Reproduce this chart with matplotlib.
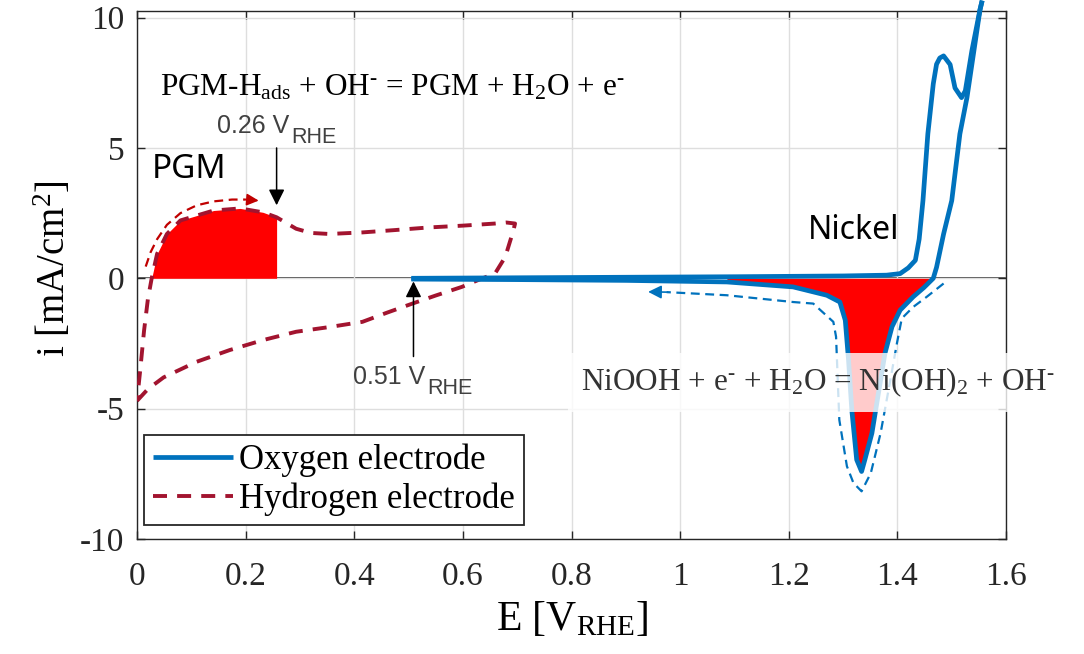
import numpy as np
import matplotlib
matplotlib.use("Agg")
import matplotlib.pyplot as plt

plt.rcParams["axes.unicode_minus"] = False
plt.rcParams["mathtext.default"] = "regular"

# oxygen electrode (Ni), forward and reverse scan
o2_fwd_E = [0.505, 0.7, 0.9, 1.1, 1.3, 1.38, 1.405, 1.42, 1.433, 1.44, 1.447, 1.456, 1.466,
            1.472, 1.478, 1.485, 1.497, 1.506, 1.518, 1.525, 1.537, 1.552, 1.556]
o2_fwd_i = [0.0, 0.02, 0.04, 0.06, 0.09, 0.12, 0.18, 0.4, 0.69, 1.5, 2.98, 5.54, 7.46,
            8.21, 8.45, 8.53, 8.2, 7.3, 6.93, 7.19, 8.72, 10.3, 10.65]
o2_rev_E = [1.556, 1.552, 1.528, 1.515, 1.500, 1.485, 1.472, 1.466, 1.449, 1.429, 1.405, 1.390,
            1.377, 1.365, 1.353, 1.340, 1.334, 1.325, 1.316, 1.310, 1.304, 1.294, 1.270,
            1.208, 1.086, 0.9, 0.7, 0.505]
o2_rev_i = [10.65, 10.3, 6.93, 5.54, 2.98, 1.7, 0.42, 0.0, -0.35, -0.71, -1.22, -1.86,
            -2.88, -4.41, -5.94, -6.96, -7.41, -6.96, -5.05, -3.14, -1.61, -0.91, -0.65,
            -0.33, -0.14, -0.08, -0.05, -0.03]

# hydrogen electrode (PGM), closed loop
h2_E = [0.0, 0.02, 0.049, 0.11, 0.171, 0.232, 0.293, 0.354, 0.415, 0.46, 0.507, 0.55, 0.598,
        0.63, 0.659, 0.678, 0.693, 0.696, 0.68, 0.659, 0.6, 0.537, 0.475, 0.415, 0.354,
        0.32, 0.293, 0.257, 0.232, 0.19, 0.141, 0.08, 0.055, 0.037, 0.027, 0.02, 0.013,
        0.006, 0.0]
h2_i = [-4.7, -4.25, -3.8, -3.2, -2.75, -2.37, -2.05, -1.87, -1.67, -1.32, -0.97, -0.66,
        -0.33, -0.05, 0.18, 0.82, 1.84, 2.1, 2.14, 2.1, 2.02, 1.95, 1.85, 1.76, 1.7, 1.74,
        1.9, 2.34, 2.53, 2.68, 2.6, 2.22, 1.7, 0.94, 0.0, -0.8, -2.0, -3.5, -4.7]

# guide arrows
pgm_arrow_E = [0.016, 0.025, 0.037, 0.055, 0.08, 0.11, 0.141, 0.175, 0.2]
pgm_arrow_i = [0.45, 1.0, 1.5, 2.05, 2.5, 2.8, 2.95, 3.02, 3.02]
pgm_arrow_tip = (0.224, 2.98)
ni_arrow_E = [1.485, 1.454, 1.429, 1.408, 1.399, 1.387, 1.369, 1.351, 1.334, 1.319, 1.307,
              1.293, 1.287, 1.282, 1.245, 1.208, 1.086, 0.975]
ni_arrow_i = [-0.2, -0.71, -1.1, -1.54, -2.5, -3.9, -5.94, -7.47, -8.17, -7.85, -7.21,
              -5.43, -2.24, -1.67, -0.97, -0.91, -0.65, -0.53]
ni_arrow_tip = (0.941, -0.52)
pgm_cut = 0.257

x_ticks = [0, 0.2, 0.4, 0.6, 0.8, 1.0, 1.2, 1.4, 1.6]
x_labels = ["0", "0.2", "0.4", "0.6", "0.8", "1", "1.2", "1.4", "1.6"]
y_ticks = [-10, -5, 0, 5, 10]

BLUE = "#0072BD"
DRED = "#A2142F"
SERIF = "Liberation Serif"
SANS = "Liberation Sans"
HY = "\u2010"  # plain hyphen for ion charges

fig = plt.figure(figsize=(10.84, 6.54), dpi=100)
ax = fig.add_axes([0.1264, 0.1758, 0.8017, 0.8073])

ax.grid(True, color="#dedede", lw=1.0, zorder=0)
ax.axhline(0, color="#3c3c3c", lw=1.3, zorder=1)

# red areas
rE = np.array(o2_rev_E); ri = np.array(o2_rev_i)
m = (rE >= 1.0) & (rE <= 1.466)
ax.fill_between(rE[m], ri[m], 0, color="#FF0000", lw=0, zorder=2)

hE = np.array(h2_E); hi = np.array(h2_i)
turn = int(np.argmax(hE))
top_E, top_i = hE[turn:], hi[turn:]
m2 = (top_E <= pgm_cut) & (top_i >= 0)
ax.fill_between(top_E[m2], top_i[m2], 0, color="#FF0000", lw=0, zorder=2)

ax.plot(h2_E, h2_i, color=DRED, lw=2.8, ls=(0, (3.6, 2.6)), zorder=3,
        label="Hydrogen electrode")
ax.plot(o2_fwd_E, o2_fwd_i, color=BLUE, lw=3.4, zorder=4, clip_on=False,
        label="Oxygen electrode", solid_capstyle="butt")
ax.plot(o2_rev_E, o2_rev_i, color=BLUE, lw=3.4, zorder=4, clip_on=False,
        solid_capstyle="butt")

# dashed direction arrows
ax.plot(pgm_arrow_E, pgm_arrow_i, color="#C00000", lw=1.6, ls=(0, (4, 2.5)), zorder=5)
ax.annotate("", xy=pgm_arrow_tip, xytext=(pgm_arrow_E[-1], pgm_arrow_i[-1]),
            arrowprops=dict(arrowstyle="-|>", color="#C00000", lw=1.2,
                            mutation_scale=18, shrinkA=0, shrinkB=0), zorder=5)
ax.plot(ni_arrow_E, ni_arrow_i, color=BLUE, lw=1.6, ls=(0, (4, 2.5)), zorder=5)
ax.annotate("", xy=ni_arrow_tip, xytext=(ni_arrow_E[-1], ni_arrow_i[-1]),
            arrowprops=dict(arrowstyle="-|>", color=BLUE, lw=1.2,
                            mutation_scale=20, shrinkA=0, shrinkB=0), zorder=5)

# potential markers
ax.annotate("", xy=(0.257, 2.8), xytext=(0.257, 5.0),
            arrowprops=dict(arrowstyle="-|>", color="black", lw=1.1,
                            mutation_scale=24, shrinkA=0, shrinkB=0), zorder=6)
ax.annotate("", xy=(0.509, -0.12), xytext=(0.509, -3.0),
            arrowprops=dict(arrowstyle="-|>", color="black", lw=1.1,
                            mutation_scale=24, shrinkA=0, shrinkB=0), zorder=6)
for xv, yv, lab in [(0.148, 5.58, "0.26 V"), (0.398, -4.05, "0.51 V")]:
    ax.text(xv, yv, lab, family=SANS, fontsize=18, color="#404040",
            va="baseline", ha="left", zorder=7)
    ax.annotate("RHE", xy=(xv, yv), xytext=(53, -7), textcoords="offset points",
                family=SANS, fontsize=15.5, color="#404040", va="baseline",
                ha="left", zorder=7)

ax.text(0.028, 3.84, "PGM", family="Noto Sans", fontsize=24, va="baseline", zorder=7)
ax.text(1.236, 1.5, "Nickel", family="Noto Sans", fontsize=23, va="baseline", zorder=7)

ax.text(0.043, 7.0,
        r"PGM-H$_{\mathregular{ads}}$ + OH$^{\mathregular{%s}}$ = PGM + H$_{\mathregular{2}}$O + e$^{\mathregular{%s}}$" % (HY, HY),
        family=SERIF, fontsize=22.5, va="baseline", ha="left", zorder=7)
ax.text(0.817, -4.3,
        r"NiOOH + e$^{\mathregular{%s}}$ + H$_{\mathregular{2}}$O = Ni(OH)$_{\mathregular{2}}$ + OH$^{\mathregular{%s}}$" % (HY, HY),
        family=SERIF, fontsize=22.5, color="#333333", va="baseline", ha="left", zorder=8,
        clip_on=False,
        bbox=dict(boxstyle="square,pad=0.4", facecolor="white", edgecolor="none", alpha=0.8))

ax.set_xlim(0, 1.6)
ax.set_ylim(-10, 10.25)
ax.set_xticks(x_ticks)
ax.set_xticklabels(x_labels)
ax.set_yticks(y_ticks)
ax.tick_params(direction="in", length=6, width=1, top=True, right=True,
               labelsize=24, colors="#262626")
ax.tick_params(axis="x", pad=16)
ax.tick_params(axis="y", pad=9)
for lab in ax.get_xticklabels() + ax.get_yticklabels():
    lab.set_family(SERIF)
for sp in ax.spines.values():
    sp.set_color("#262626")
    sp.set_linewidth(1.0)

ax.set_xlabel(r"E [V$_{\mathregular{RHE}}$]", family=SERIF, fontsize=30)
ax.set_ylabel(r"i [mA/cm$^{\mathregular{2}}$]", family=SERIF, fontsize=28)
ax.xaxis.set_label_coords(0.5, -0.115)
ax.yaxis.set_label_coords(-0.073, 0.513)

h, l = ax.get_legend_handles_labels()
leg = ax.legend(h[::-1], l[::-1], loc="lower left", bbox_to_anchor=(0.008, 0.027),
                borderaxespad=0, prop=dict(family=SERIF, size=25), frameon=True,
                fancybox=False, edgecolor="#262626", framealpha=1, handlelength=2.3,
                handletextpad=0.2, labelspacing=0.15, borderpad=0.25)
leg.get_frame().set_linewidth(1.3)
leg.set_zorder(9)

fig.savefig("out.png", dpi=100)
